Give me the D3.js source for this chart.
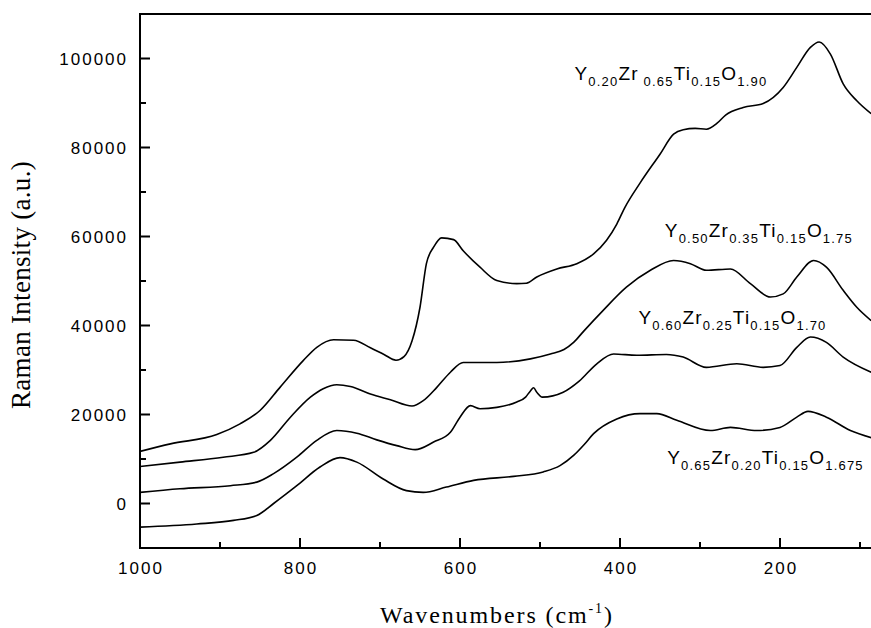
<!DOCTYPE html>
<head>
   <meta charset="utf-8">
   <script src="https://d3js.org/d3.v7.min.js"></script>
   <style>
      body { margin: 0; background: #ffffff; }
      text { font-family: "Liberation Sans", Arial, sans-serif; fill: #000000; }
      text.tick { font-size: 17px; letter-spacing: 2px; }
      text.axisTitle { font-family: "Liberation Serif", "Times New Roman", serif; }
      text.formula { font-size: 19px; letter-spacing: 1.2px; }
      path.spectrum { fill: none; stroke: #000000; stroke-width: 1.6; stroke-linejoin: round; }
      line.axis { stroke: #000000; stroke-width: 2; }
      line.tickMark { stroke: #000000; stroke-width: 2; }
   </style>
</head>
<body>
   <script>
      const width = 871;
      const height = 628;

      // spectra: [wavenumber cm-1, intensity a.u.]
      const specY20 = [
         [1000, 11700], [962, 13400], [904, 15500], [875, 17900], [850, 20900], [825, 26100],
         [796, 32100], [779, 35100], [758, 36800], [733, 36700], [712, 35000], [695, 33500],
         [680, 32200], [670, 33000], [660, 36500], [650, 44100], [642, 53900], [633, 57600],
         [623, 59700], [608, 59300], [596, 56800], [575, 53100], [554, 50100], [529, 49400],
         [517, 49500], [504, 50900], [479, 52700], [454, 53900], [433, 56100], [417, 59100],
         [404, 62800], [394, 66500], [375, 72000], [350, 78500], [333, 83000], [321, 84000],
         [306, 84300], [292, 84100], [279, 85400], [268, 87300], [246, 89000], [221, 89900],
         [196, 93500], [179, 98000], [162, 102500], [151, 103700], [137, 101000], [121, 94300],
         [104, 90500], [86, 87600]
      ];
      const specY50 = [
         [1000, 8300], [950, 9300], [896, 10400], [858, 11500], [837, 14200], [812, 19400],
         [787, 23900], [771, 25800], [754, 26700], [737, 26300], [712, 24600], [687, 23300],
         [660, 21900], [646, 23100], [629, 26100], [612, 29500], [596, 31700], [554, 31700],
         [512, 32500], [487, 33600], [470, 34600], [458, 36200], [445, 38800], [421, 43400],
         [392, 48600], [362, 52400], [333, 54600], [312, 53900], [292, 52400], [262, 52700],
         [237, 49400], [212, 46400], [196, 47100], [179, 50900], [158, 54600], [142, 53100],
         [121, 47900], [104, 44100], [86, 41100]
      ];
      const specY60 = [
         [1000, 2500], [950, 3300], [887, 4000], [854, 4800], [833, 6700], [804, 10400],
         [779, 14200], [754, 16400], [729, 15800], [704, 14300], [679, 13000], [656, 12100],
         [633, 13800], [612, 16000], [600, 19400], [587, 22000], [575, 21300], [554, 21600],
         [529, 22800], [518, 23900], [512, 25300], [508, 26000], [504, 25000], [497, 23900],
         [471, 25000], [451, 27500], [429, 31400], [408, 33600], [379, 33300], [342, 33500],
         [321, 32900], [292, 30600], [254, 31400], [221, 30600], [200, 31000], [179, 35100],
         [162, 37400], [142, 36200], [121, 32900], [86, 29500]
      ];
      const specY65 = [
         [1000, -5300], [929, -4600], [883, -3800], [854, -2700], [833, 0], [804, 4000],
         [775, 8200], [750, 10300], [729, 9300], [696, 5500], [667, 2900], [646, 2500],
         [617, 3700], [583, 5200], [533, 6100], [496, 7100], [475, 8500], [458, 10800],
         [445, 13200], [433, 15700], [404, 19000], [375, 20200], [354, 20200], [329, 18700],
         [287, 16400], [262, 17100], [229, 16400], [200, 17100], [179, 19400], [165, 20700],
         [142, 19400], [112, 16400], [86, 14800]
      ];

      // formula labels: [element, subscript]
      const formulaY20 = [['Y', '0.20'], ['Zr', ' 0.65'], ['Ti', '0.15'], ['O', '1.90']];
      const formulaY50 = [['Y', '0.50'], ['Zr', '0.35'], ['Ti', '0.15'], ['O', '1.75']];
      const formulaY60 = [['Y', '0.60'], ['Zr', '0.25'], ['Ti', '0.15'], ['O', '1.70']];
      const formulaY65 = [['Y', '0.65'], ['Zr', '0.20'], ['Ti', '0.15'], ['O', '1.675']];
      // label anchor in data units [wavenumber, intensity]
      const formulaAt = [[457, 93800], [344, 58500], [377, 39100], [341, 7600]];

      const xMajor = [1000, 800, 600, 400, 200, 0];
      const xMinor = [900, 700, 500, 300, 100];
      const yMajor = [0, 20000, 40000, 60000, 80000, 100000];
      const yMinor = [10000, 30000, 50000, 70000, 90000];

      const margin = { top: 14, left: 140, bottom: 80 };

      const svg = d3.select('body').append('svg')
         .attr('width', width)
         .attr('height', height);

      const x = d3.scaleLinear()
         .domain([1000, 0])
         .range([margin.left, margin.left + 800]);

      const y = d3.scaleLinear()
         .domain([-10000, 110000])
         .range([height - margin.bottom, margin.top]);

      svg.append('defs').append('clipPath')
         .attr('id', 'plot')
         .append('rect')
         .attr('x', margin.left)
         .attr('y', margin.top)
         .attr('width', width - margin.left)
         .attr('height', y(-10000) - margin.top);

      const line = d3.line()
         .x(d => x(d[0]))
         .y(d => y(d[1]))
         .curve(d3.curveMonotoneX);

      svg.append('g')
         .attr('clip-path', 'url(#plot)')
         .selectAll('path')
         .data([specY20, specY50, specY60, specY65])
         .enter()
         .append('path')
         .attr('class', 'spectrum')
         .attr('d', line);

      // frame: left, bottom, top
      const x0 = x(1000), yB = y(-10000), yT = y(110000);
      svg.append('line').attr('class', 'axis')
         .attr('x1', x0).attr('x2', x0).attr('y1', yT - 1).attr('y2', yB + 1);
      svg.append('line').attr('class', 'axis')
         .attr('x1', x0).attr('x2', width).attr('y1', yB).attr('y2', yB);
      svg.append('line').attr('class', 'axis')
         .attr('x1', x0).attr('x2', width).attr('y1', yT).attr('y2', yT);

      // x ticks (inward)
      svg.selectAll('line.xMajor').data(xMajor).enter().append('line')
         .attr('class', 'tickMark')
         .attr('x1', d => x(d)).attr('x2', d => x(d))
         .attr('y1', yB).attr('y2', yB - 10);
      svg.selectAll('line.xMinor').data(xMinor).enter().append('line')
         .attr('class', 'tickMark')
         .attr('x1', d => x(d)).attr('x2', d => x(d))
         .attr('y1', yB).attr('y2', yB - 6);
      svg.selectAll('text.xLabel').data(xMajor.filter(d => x(d) < width)).enter().append('text')
         .attr('class', 'tick')
         .attr('x', d => x(d) + 1)
         .attr('y', yB + 26)
         .style('text-anchor', 'middle')
         .text(d => d);

      // y ticks (inward)
      svg.selectAll('line.yMajor').data(yMajor).enter().append('line')
         .attr('class', 'tickMark')
         .attr('x1', x0).attr('x2', x0 + 10)
         .attr('y1', d => y(d)).attr('y2', d => y(d));
      svg.selectAll('line.yMinor').data(yMinor).enter().append('line')
         .attr('class', 'tickMark')
         .attr('x1', x0).attr('x2', x0 + 6)
         .attr('y1', d => y(d)).attr('y2', d => y(d));
      svg.selectAll('text.yLabel').data(yMajor).enter().append('text')
         .attr('class', 'tick')
         .attr('x', x0 - 12)
         .attr('y', d => y(d) + 6.5)
         .style('text-anchor', 'end')
         .text(d => d);

      // axis titles
      const xTitle = svg.append('text')
         .attr('class', 'axisTitle')
         .attr('x', 497)
         .attr('y', 623)
         .style('text-anchor', 'middle')
         .style('font-size', '24px')
         .style('letter-spacing', '1.9px');
      xTitle.append('tspan').text('Wavenumbers (cm');
      xTitle.append('tspan').attr('dy', -10).style('font-size', '14px').text('-1');
      xTitle.append('tspan').attr('dy', 10).text(')');

      svg.append('text')
         .attr('class', 'axisTitle')
         .attr('transform', 'translate(30, 285) rotate(-90)')
         .style('text-anchor', 'middle')
         .style('font-size', '27px')
         .style('letter-spacing', '0.3px')
         .text('Raman Intensity (a.u.)');

      // formula labels
      [formulaY20, formulaY50, formulaY60, formulaY65].forEach((f, i) => {
         const t = svg.append('text')
            .attr('class', 'formula')
            .attr('x', x(formulaAt[i][0]))
            .attr('y', y(formulaAt[i][1]));
         f.forEach(p => {
            t.append('tspan').attr('dy', t.selectAll('tspan').size() ? -6 : 0).text(p[0]);
            t.append('tspan').attr('dy', 6).style('font-size', '13px').text(p[1]);
         });
      });
   </script>
</body>
